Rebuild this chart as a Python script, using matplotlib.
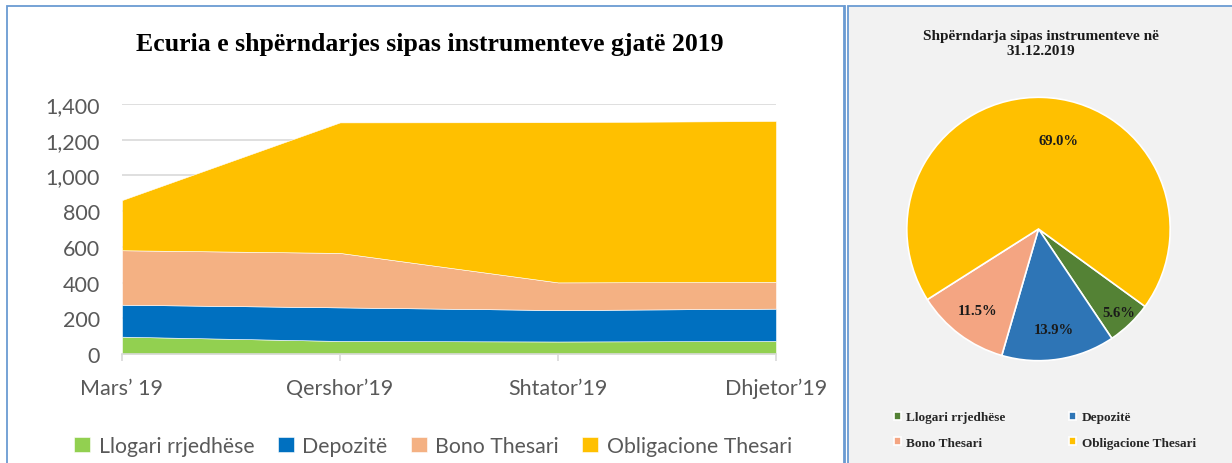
import matplotlib
matplotlib.use("Agg")
import matplotlib.pyplot as plt
from matplotlib.patches import Rectangle
from matplotlib.lines import Line2D
import numpy as np

# ---- data ----
periods = ["Mars\u2019 19", "Qershor\u201919", "Shtator\u201919", "Dhjetor\u201919"]
series_names = ["Llogari rrjedh\u00ebse", "Depozit\u00eb", "Bono Thesari", "Obligacione Thesari"]
llogari = [97, 73, 70, 73]
depozite = [179, 188, 176, 181]
bono = [305, 305, 155, 150]
obligacione = [281, 731, 897, 901]
yticks = [0, 200, 400, 600, 800, 1000, 1200, 1400]

pie_values = [5.6, 13.9, 11.5, 69.0]
pie_labels = ["5.6%", "13.9%", "11.5%", "69.0%"]

area_colors = ["#92D050", "#0070C0", "#F4B183", "#FFC000"]
pie_colors = ["#548235", "#2E75B6", "#F4A582", "#FFC000"]

W, H = 1232, 464
fig = plt.figure(figsize=(W / 100, H / 100), dpi=100)
fig.patch.set_facecolor("white")

def fx(px):
    return px / W

def fy(py):
    return 1 - py / H

# panel frames
border = "#6A9BD2"
fig.patches.append(Rectangle((fx(7), fy(470)), fx(844) - fx(7), fy(7) - fy(470),
                             transform=fig.transFigure, fill=False, edgecolor=border, lw=1.3, zorder=-2))
fig.patches.append(Rectangle((fx(848), fy(470)), fx(1240) - fx(848), fy(7) - fy(470),
                             transform=fig.transFigure, facecolor="#F2F2F2", edgecolor=border, lw=1.3, zorder=-2))
fig.lines.append(Line2D([fx(845), fx(845)], [fy(7), 0], transform=fig.transFigure, color=border, lw=1.3, zorder=-2))

sans = ["Lato", "DejaVu Sans"]
serif = ["Liberation Serif", "DejaVu Serif"]
grey = "#595959"

# ---- area chart ----
ax = fig.add_axes([fx(122), fy(355), fx(776) - fx(122), fy(105) - fy(355)])
x = np.arange(len(periods))
ax.stackplot(x, llogari, depozite, bono, obligacione, colors=area_colors,
             labels=series_names, edgecolor="#FFFFFF", linewidth=0.4, zorder=2)
ax.set_xlim(0, len(periods) - 1)
ax.set_ylim(0, 1400)
ax.set_yticks(yticks)
ax.set_yticklabels([f"{v:,}" for v in yticks], fontfamily=sans, fontsize=15.5, color=grey)
ax.set_xticks(x)
ax.set_xticklabels(periods, fontfamily=sans, fontsize=15.5, color=grey)
ax.grid(axis="y", color="#D9D9D9", lw=1.2, zorder=0)
ax.set_axisbelow(True)
for s in ["top", "right", "left"]:
    ax.spines[s].set_visible(False)
ax.spines["bottom"].set_color("#D9D9D9")
ax.spines["bottom"].set_linewidth(1.2)
ax.spines["bottom"].set_zorder(3)
ax.tick_params(axis="y", length=0, pad=16)
ax.tick_params(axis="x", length=5, color="#D9D9D9", width=1.2, pad=12)
ax.patch.set_alpha(0)

fig.text(fx(430), fy(44), "Ecuria e shp\u00ebrndarjes sipas instrumenteve gjat\u00eb 2019",
         ha="center", va="center", fontfamily=serif, fontweight="bold", fontsize=18.5)

handles, labels = ax.get_legend_handles_labels()
fig.legend(handles, labels, loc="center", bbox_to_anchor=(fx(433), fy(447)), ncol=4,
           frameon=False, prop={"family": sans, "size": 15.3}, labelcolor=grey,
           handlelength=0.75, handleheight=0.75, handletextpad=0.4, columnspacing=1.1)

# ---- pie chart ----
cx, cy, r = 1038.5, 230, 131.7
pax = fig.add_axes([fx(cx - r), fy(cy + r), fx(2 * r), fy(cy - r) - fy(cy + r)])
pax.patch.set_alpha(0)
wedges, _ = pax.pie(pie_values, colors=pie_colors, startangle=-36, counterclock=False,
                    wedgeprops=dict(edgecolor="white", linewidth=1.2))
pax.set_xlim(-1, 1)
pax.set_ylim(-1, 1)
pax.set_aspect("auto")
lab_r = [0.877, 0.77, 0.77, 0.686]
lab_off = [0, 0, 0, -11]
for w, t, rr, off in zip(wedges, pie_labels, lab_r, lab_off):
    mid = np.deg2rad((w.theta1 + w.theta2) / 2 + off)
    pax.text(rr * np.cos(mid), rr * np.sin(mid), t, ha="center", va="center",
             fontfamily=serif, fontweight="bold", fontsize=10.5, color="#1a1a1a")

fig.text(fx(1041), fy(44), "Shp\u00ebrndarja sipas instrumenteve n\u00eb\n31.12.2019",
         ha="center", va="center", fontfamily=serif, fontweight="bold", fontsize=11,
         linespacing=1.15, color="#1a1a1a")

order = [0, 2, 1, 3]
fig.legend([wedges[i] for i in order], [series_names[i] for i in order], loc="center left",
           bbox_to_anchor=(fx(882), fy(431)), ncol=2, frameon=False,
           prop={"family": serif, "weight": "bold", "size": 9.5}, labelcolor="#262626",
           handlelength=0.55, handleheight=0.55, handletextpad=0.4, columnspacing=4.8,
           labelspacing=1.0)

fig.savefig("out.png", dpi=100, facecolor="white")
